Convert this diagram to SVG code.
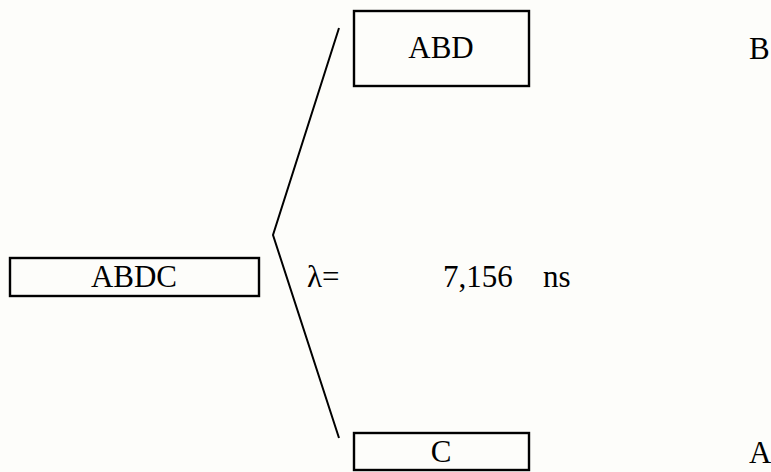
<svg xmlns="http://www.w3.org/2000/svg" width="771" height="472" viewBox="0 0 771 472" font-family="'Liberation Serif', 'DejaVu Serif', serif">
  <style>
    .box { fill: none; stroke: #000; stroke-width: 2.4; }
    text { font-family: "Liberation Serif", "DejaVu Serif", serif; font-size: 31px; fill: #000; }
    .mid { text-anchor: middle; }
    .edge { fill: none; stroke: #000; stroke-width: 2; stroke-linejoin: miter; }
  </style>
  <rect x="0" y="0" width="771" height="472" fill="#fdfdfa"/>

  <g id="connectors">
    <polyline class="edge" points="339,28 273,235 339,438"/>
  </g>

  <g id="node-abd">
    <rect class="box" x="354" y="11" width="175" height="75"/>
    <text class="mid" x="441" y="58" font-family="Liberation Serif, serif">ABD</text>
  </g>

  <g id="node-abdc">
    <rect class="box" x="10" y="258" width="249" height="38"/>
    <text class="mid" x="134" y="287" font-family="Liberation Serif, serif">ABDC</text>
  </g>

  <g id="node-c">
    <rect class="box" x="354" y="433" width="175" height="37"/>
    <text class="mid" x="441" y="462" font-family="Liberation Serif, serif">C</text>
  </g>

  <g id="label-lambda">
    <text x="307" y="287" font-family="Liberation Serif, serif">λ=</text>
    <text x="443" y="287" font-family="Liberation Serif, serif">7,156</text>
    <text x="543" y="287" font-family="Liberation Serif, serif">ns</text>
  </g>

  <g id="label-b">
    <text x="749" y="59" font-family="Liberation Serif, serif">B</text>
  </g>

  <g id="label-a">
    <text x="749" y="463" font-family="Liberation Serif, serif">A</text>
  </g>
</svg>
